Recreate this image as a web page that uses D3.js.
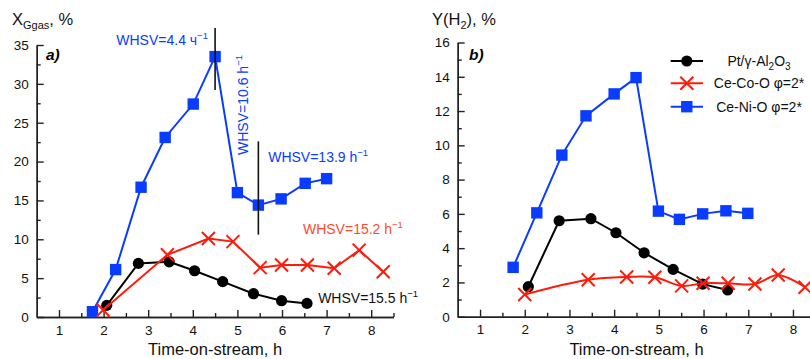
<!DOCTYPE html>
<html>
<head>
<meta charset="utf-8">
<script src="https://cdn.jsdelivr.net/npm/d3@7"></script>
<style>
  body { margin: 0; background: #fff; }
  svg { font-family: Arial, "Liberation Sans", sans-serif; }
  .axis path, .axis line { stroke: #222; stroke-width: 1.4; }
  .axis text { font-size: 13.5px; fill: #111; }
</style>
</head>
<body>
<div id="chart"></div>
<script>
// Chart size
var w = 810;
var h = 359;

var blue = "#0a3cff";
var red = "#ff1a0a";

// x values (time-on-stream, h) and values, panel a (X Ggas, %)
var ptTimeA = [2.07, 2.78, 3.47, 4.04, 4.67, 5.36, 5.99, 6.56];
var ptValA = [1.5, 6.9, 7.1, 5.95, 4.55, 3.0, 2.1, 1.75];
var coTimeA = [1.99, 3.43, 4.35, 4.9, 5.51, 5.99, 6.57, 7.17, 7.73, 8.27];
var coValA = [0.9, 8.0, 10.1, 9.7, 6.35, 6.7, 6.7, 6.27, 8.6, 5.83];
var niTimeA = [1.75, 2.27, 2.84, 3.38, 4.01, 4.5, 5.0, 5.47, 5.98, 6.52, 7.0];
var niValA = [0.68, 6.1, 16.7, 23.1, 27.4, 33.5, 16.0, 14.4, 15.2, 17.2, 17.8];

// panel b (Y(H2), %)
var ptTimeB = [2.08, 2.77, 3.48, 4.04, 4.67, 5.32, 5.98, 6.54];
var ptValB = [1.75, 5.6, 5.72, 4.9, 3.73, 2.76, 1.9, 1.56];
var coTimeB = [2.0, 3.42, 4.28, 4.91, 5.51, 5.99, 6.55, 7.15, 7.67, 8.27];
var coValB = [1.3, 2.16, 2.32, 2.3, 1.8, 1.95, 1.95, 1.91, 2.43, 1.72];
var niTimeB = [1.74, 2.27, 2.83, 3.37, 4.0, 4.49, 4.99, 5.46, 5.98, 6.5, 6.99];
var niValB = [2.88, 6.06, 9.43, 11.72, 13.0, 13.95, 6.16, 5.68, 6.0, 6.18, 6.03];

// axis ticks
var xTicks = [1, 2, 3, 4, 5, 6, 7, 8];
var xMinor = [1.5, 2.5, 3.5, 4.5, 5.5, 6.5, 7.5, 8.5];
var yTicksA = [0, 5, 10, 15, 20, 25, 30, 35];
var yMinorA = [2.5, 7.5, 12.5, 17.5, 22.5, 27.5, 32.5];
var yTicksB = [0, 2, 4, 6, 8, 10, 12, 14, 16];
var yMinorB = [1, 3, 5, 7, 9, 11, 13, 15];

// legend labels
var legendNames = ["Pt/γ-Al", "Ce-Co-O φ=2*", "Ce-Ni-O φ=2*"];

var zip = function(xs, ys) {
	return xs.map(function(x, i) { return { t: x, v: ys[i] }; });
};

var svg = d3.select("#chart")
	.append("svg")
	.attr("width", w)
	.attr("height", h);

// Scales
var xA = d3.scaleLinear().domain([0.5, 8.5]).range([36.7, 393.5]);
var yA = d3.scaleLinear().domain([0, 35]).range([317, 45]);
var xB = d3.scaleLinear().domain([0.5, 8.5]).range([457.7, 815.3]);
var yB = d3.scaleLinear().domain([0, 16]).range([316.7, 42.5]);

function drawAxes(x, y, yTicks, yMinor) {
	var y0 = y.range()[0];
	var x0 = x.range()[0];
	svg.append("g")
		.attr("class", "axis")
		.attr("transform", "translate(0," + y0 + ")")
		.call(d3.axisBottom(x).tickValues(xTicks).tickSizeInner(-7).tickSizeOuter(0).tickPadding(8));
	svg.append("g")
		.attr("class", "axis")
		.attr("transform", "translate(0," + y0 + ")")
		.call(d3.axisBottom(x).tickValues(xMinor).tickSizeInner(-4).tickSizeOuter(0).tickFormat(""));
	svg.append("g")
		.attr("class", "axis")
		.attr("transform", "translate(" + x0 + ",0)")
		.call(d3.axisLeft(y).tickValues(yTicks).tickSizeInner(-7).tickSizeOuter(0).tickPadding(8));
	svg.append("g")
		.attr("class", "axis")
		.attr("transform", "translate(" + x0 + ",0)")
		.call(d3.axisLeft(y).tickValues(yMinor).tickSizeInner(-4).tickSizeOuter(0).tickFormat(""));
}

drawAxes(xA, yA, yTicksA, yMinorA);
drawAxes(xB, yB, yTicksB, yMinorB);

function drawSeries(x, y, data, color, marker, curve) {
	var line = d3.line()
		.x(function(d) { return x(d.t); })
		.y(function(d) { return y(d.v); })
		.curve(curve || d3.curveLinear);
	svg.append("path")
		.datum(data)
		.attr("d", line)
		.attr("fill", "none")
		.attr("stroke", color)
		.attr("stroke-width", 2);
	drawMarkers(svg, data.map(function(d) { return [x(d.t), y(d.v)]; }), color, marker);
}

function drawMarkers(g, pts, color, marker) {
	pts.forEach(function(p) {
		if (marker == "circle") {
			g.append("circle").attr("cx", p[0]).attr("cy", p[1]).attr("r", 5.6).attr("fill", "#000");
		} else if (marker == "square") {
			g.append("rect").attr("x", p[0] - 5.7).attr("y", p[1] - 5.7)
				.attr("width", 11.4).attr("height", 11.4).attr("fill", color);
		} else {
			g.append("path")
				.attr("d", "M" + (p[0] - 6.5) + "," + (p[1] - 6.5) + "L" + (p[0] + 6.5) + "," + (p[1] + 6.5) +
					"M" + (p[0] - 6.5) + "," + (p[1] + 6.5) + "L" + (p[0] + 6.5) + "," + (p[1] - 6.5))
				.attr("stroke", color).attr("stroke-width", 2);
		}
	});
}

// Panel a
drawSeries(xA, yA, zip(niTimeA, niValA), blue, "square");
drawSeries(xA, yA, zip(ptTimeA, ptValA), "#000", "circle");
drawSeries(xA, yA, zip(coTimeA, coValA), red, "cross");

// Panel b
drawSeries(xB, yB, zip(niTimeB, niValB), blue, "square");
drawSeries(xB, yB, zip(ptTimeB, ptValB), "#000", "circle");
drawSeries(xB, yB, zip(coTimeB, coValB), red, "cross", d3.curveCatmullRom);

// Vertical marker lines (WHSV switch points)
var switchTime = [4.5, 5.47];
var switchLo = [29.2, 10.6];
var switchHi = [37.2, 22.6];
switchTime.forEach(function(t, i) {
	svg.append("line")
		.attr("x1", xA(t)).attr("x2", xA(t))
		.attr("y1", yA(switchLo[i])).attr("y2", yA(switchHi[i]))
		.attr("stroke", "#111").attr("stroke-width", 1.6);
});

// WHSV annotations
var annoLabel = ["WHSV=4.4 ч", "WHSV=10.6 h", "WHSV=13.9 h", "WHSV=15.2 h", "WHSV=15.5 h"];
var annoTime = [4.34, 5.24, 5.69, 6.47, 6.81];
var annoVal = [35.0, 20.85, 20.0, 10.7, 1.8];
var annoColor = [blue, blue, blue, "#ff4a2a", "#111"];
var annoAnchor = ["end", "start", "start", "start", "start"];
var annoRotate = [0, -90, 0, 0, 0];

annoLabel.forEach(function(lbl, i) {
	var px = xA(annoTime[i]), py = yA(annoVal[i]);
	var t = svg.append("text")
		.attr("transform", "translate(" + px + "," + py + ") rotate(" + annoRotate[i] + ")")
		.attr("text-anchor", annoAnchor[i])
		.attr("font-size", 14)
		.attr("fill", annoColor[i]);
	t.append("tspan").text(lbl);
	t.append("tspan").attr("font-size", 9.5).attr("dy", -6).text("−1");
});

// Axis titles
[xA, xB].forEach(function(x) {
	svg.append("text")
		.attr("x", x(4.5))
		.attr("y", 355)
		.attr("text-anchor", "middle")
		.attr("font-size", 16.5)
		.attr("fill", "#111")
		.text("Time-on-stream, h");
});

var yt1 = svg.append("text").attr("x", 12).attr("y", 25).attr("font-size", 16.5).attr("fill", "#111");
yt1.append("tspan").text("X");
yt1.append("tspan").attr("font-size", 11).attr("dy", 4).text("Ggas");
yt1.append("tspan").attr("dy", -4).text(", %");

var yt2 = svg.append("text").attr("x", 432).attr("y", 25).attr("font-size", 16.5).attr("fill", "#111");
yt2.append("tspan").text("Y(H");
yt2.append("tspan").attr("font-size", 11).attr("dy", 4).text("2");
yt2.append("tspan").attr("dy", -4).text("), %");

// Panel letters
svg.append("text").attr("x", 46).attr("y", 60).attr("font-size", 15.5)
	.attr("font-weight", "bold").attr("font-style", "italic").text("a)");
svg.append("text").attr("x", 469).attr("y", 60).attr("font-size", 15.5)
	.attr("font-weight", "bold").attr("font-style", "italic").text("b)");

// Legend
var legendY = [61, 83.3, 106.7];
var legendColor = ["#000", red, blue];
var legendMarker = ["circle", "cross", "square"];
legendNames.forEach(function(name, i) {
	svg.append("line")
		.attr("x1", 670.7).attr("x2", 703)
		.attr("y1", legendY[i]).attr("y2", legendY[i])
		.attr("stroke", legendColor[i]).attr("stroke-width", 2);
	drawMarkers(svg, [[686.8, legendY[i]]], legendColor[i], legendMarker[i]);
	var t = svg.append("text")
		.attr("x", 759)
		.attr("y", legendY[i] + 5)
		.attr("text-anchor", "middle")
		.attr("font-size", 14)
		.attr("fill", "#111");
	t.append("tspan").text(name);
	if (i == 0) {
		t.append("tspan").attr("font-size", 10).attr("dy", 4).text("2");
		t.append("tspan").attr("dy", -4).text("O");
		t.append("tspan").attr("font-size", 10).attr("dy", 4).text("3");
	}
});
</script>
</body>
</html>
